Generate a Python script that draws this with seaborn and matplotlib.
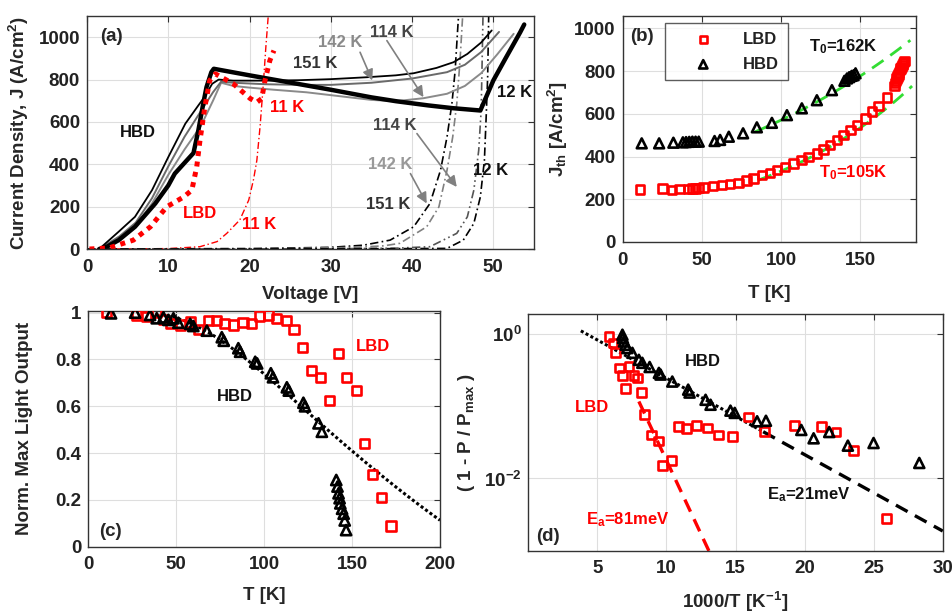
import numpy as np
import matplotlib
matplotlib.use("Agg")
import matplotlib.pyplot as plt
import seaborn as sns

sns.set_theme(style="white")
plt.rcParams.update({
    "font.family": ["Liberation Sans", "DejaVu Sans"],
    "font.weight": "bold",
    "axes.labelweight": "bold",
    "mathtext.fontset": "custom",
    "mathtext.rm": "Liberation Sans:bold",
    "mathtext.it": "Liberation Sans:bold",
    "mathtext.bf": "Liberation Sans:bold",
    "mathtext.default": "regular",
})

RED = "#ff0000"
GREEN = "#33dd33"
GRAY = "#808080"

# ---------------- (a) current density vs voltage ----------------
v_hbd_12k = [1.5, 2.5, 3.9, 5.9, 8.4, 10.0, 10.8, 12.1, 13.1, 13.7, 14.3, 14.7, 15.3, 15.6,
             20.0, 25.0, 30.0, 35.0, 38.0, 42.0, 45.0, 48.4, 50.0, 51.5, 53.3, 53.8]
j_hbd_12k = [0, 12, 42, 105, 215, 300, 356, 411, 453, 560, 686, 764, 835, 851,
             820, 786, 752, 716, 698, 678, 665, 654, 796, 900, 1023, 1060]

v_hbd_151k = [1.5, 3.9, 5.9, 8.0, 10.0, 12.1, 13.7, 14.5, 15.4, 16.2, 18.0, 22.0, 26.0, 30.0,
              34.4, 38.0, 40.2, 43.0, 45.1, 46.8, 48.5, 49.8]
j_hbd_151k = [0, 82, 152, 278, 434, 592, 678, 720, 780, 800, 795, 795, 797, 802,
              811, 820, 830, 855, 882, 921, 975, 1032]

v_hbd_142k = [1.5, 4.0, 6.0, 8.0, 10.0, 12.0, 14.0, 15.5, 16.5, 18.0, 22.0, 26.0, 30.0,
              35.0, 40.0, 44.3, 46.5, 48.5, 50.7]
j_hbd_142k = [0, 60, 125, 240, 390, 530, 650, 740, 790, 785, 778, 775, 775,
              785, 805, 835, 870, 930, 1025]

v_hbd_114k = [1.5, 4.0, 6.0, 8.0, 10.0, 12.0, 14.0, 15.5, 16.5, 18.0, 20.0, 23.0, 27.0,
              31.0, 35.0, 38.0, 41.4, 44.3, 46.5, 48.5, 50.5, 52.5]
j_hbd_114k = [0, 50, 110, 215, 350, 470, 580, 700, 785, 770, 762, 752, 740,
              722, 704, 698, 712, 733, 770, 830, 920, 1016]

v_lbd_11k = [0.3, 2.7, 5.7, 7.8, 9.8, 11.9, 12.9, 13.5, 13.9, 14.5, 15.1, 15.8, 18.0,
             20.1, 20.9, 21.5, 21.9, 22.5, 23.0]
j_lbd_11k = [0, 5, 42, 105, 199, 246, 278, 388, 513, 670, 796, 827, 780,
             710, 693, 710, 796, 890, 937]

# dash-dot family (second set of traces)
v_dd_11k = [0, 10, 13.9, 16.0, 17.2, 18.8, 19.9, 20.5, 20.9, 21.3, 21.7, 22.0, 22.4]
j_dd_11k = [0, 2, 11, 35, 74, 137, 231, 330, 419, 580, 781, 950, 1150]
v_dd_151k = [0, 20, 30, 34, 37.3, 40.2, 42.2, 43.5, 44.3, 44.9, 45.3, 45.6, 45.8]
j_dd_151k = [0, 2, 8, 18, 42, 105, 215, 372, 529, 686, 843, 1031, 1150]
v_dd_142k = [0, 25, 33, 36.5, 38.5, 41.8, 43.3, 44.3, 45.0, 45.5, 45.9, 46.3]
j_dd_142k = [0, 2, 8, 15, 27, 105, 199, 372, 529, 686, 890, 1150]
v_dd_114k = [0, 30, 38, 42.2, 45.5, 46.8, 47.6, 48.2, 48.5, 48.6, 48.75]
j_dd_114k = [0, 1, 4, 11, 74, 152, 278, 466, 654, 843, 1150]
v_dd_12k = [0, 30, 40, 44.3, 46.3, 47.6, 48.4, 48.9, 49.1, 49.3, 49.45]
j_dd_12k = [0, 1, 2, 3, 42, 121, 246, 419, 607, 811, 1150]

# ---------------- (b) threshold current density ----------------
t_b_lbd = [11, 25, 31, 36, 41.5, 44, 46, 48, 51, 57, 62.6, 67.8, 73, 78, 82.6, 88, 93, 97.3,
           102.6, 107.8, 113, 117.3, 122.6, 126.8, 131, 135.3, 139.4, 143.7, 147.9, 153.2,
           157.4, 161.6, 166.9,
           171.5, 172, 172.5, 173, 173.5, 174, 174.5, 175, 175.5, 176, 176.5, 177, 177.5, 178]
j_b_lbd = [247, 251, 243, 248, 249, 250, 251, 252, 256, 262, 267, 271, 277, 287, 298, 313, 324, 337,
           352, 368, 384, 399, 415, 434, 454, 477, 501, 524, 548, 579,
           610, 636, 677,
           730, 745, 755, 765, 775, 785, 795, 805, 812, 820, 828, 835, 842, 848]
t_b_hbd = [12, 23, 32, 38, 40, 42, 44, 46, 48, 58, 61.5, 67, 76, 84.7, 94.2, 103.7, 113.1,
           122.6, 132.1, 140, 141.6, 143, 144.5, 145.8, 147]
j_b_hbd = [462, 462, 465, 467, 468, 469, 470, 470, 470, 473, 478, 493, 509, 537, 558, 594, 626,
           664, 711, 755, 766, 772, 778, 781, 790]

T0_HBD, T0_LBD = 162.0, 105.0
fit_t_hbd = (83.6, 181.6); fit_j0_hbd = 516.0
fit_t_lbd = (85.7, 182.7); fit_j0_lbd = 290.0

# ---------------- (c) normalised max light output ----------------
t_c_lbd = [10.5, 27.5, 33.2, 38.9, 42.7, 46.5, 52.2, 57.9, 62.6, 68.3, 72.7, 77.4, 82.5, 87.9,
           93.0, 97.3, 102.4, 107.2, 112.5, 117.0, 121.8, 127.1, 132.2, 137.1, 142.3, 147.0,
           152.3, 156.9, 161.8, 166.9, 172.1]
p_c_lbd = [1.0, 0.99, 0.985, 1.0, 0.97, 0.955, 0.947, 0.96, 0.929, 0.966, 0.966, 0.952, 0.947, 0.957,
           0.952, 0.986, 0.99, 0.976, 0.966, 0.929, 0.852, 0.752, 0.724, 0.624, 0.826, 0.724,
           0.667, 0.442, 0.309, 0.211, 0.088]
t_c_hbd = [12.9, 26.6, 35.1, 38.9, 42.7, 45.5, 48.4, 51.2, 57.9, 59.7, 67.4, 75.9, 77.0, 85.3,
           86.3, 94.9, 96.0, 103.8, 105.0, 112.9, 114.0, 122.3, 123.2, 130.9, 132.8,
           141.0, 141.7, 142.3, 142.9, 143.3, 144.3, 145.2, 145.8, 146.6]
p_c_hbd = [0.997, 1.0, 0.99, 0.976, 0.98, 0.969, 0.976, 0.957, 0.952, 0.943, 0.923, 0.895, 0.88, 0.848,
           0.833, 0.79, 0.783, 0.741, 0.724, 0.681, 0.667, 0.615, 0.6, 0.527, 0.491,
           0.285, 0.257, 0.228, 0.207, 0.185, 0.162, 0.141, 0.112, 0.071]

# ---------------- (d) Arrhenius plot ----------------
x_d_hbd = [6.81, 6.85, 6.92, 7.04, 7.17, 7.53, 8.0, 8.25, 8.78, 9.45, 9.57, 10.42, 11.57, 11.67,
           12.83, 13.19, 14.63, 14.94, 16.56, 17.2, 19.76, 20.65, 21.78, 23.13, 24.99, 28.3]
y_d_hbd = [0.98, 0.88, 0.79, 0.71, 0.64, 0.55, 0.44, 0.40, 0.35, 0.29, 0.275, 0.22, 0.17, 0.155,
           0.123, 0.105, 0.087, 0.081, 0.062, 0.063, 0.047, 0.036, 0.044, 0.0285, 0.031, 0.0164]
x_d_lbd = [5.84, 6.13, 6.32, 6.61, 6.81, 7.28, 7.65, 7.89, 7.04, 8.2, 8.42, 8.92, 9.41, 9.7,
           10.35, 10.85, 11.45, 12.15, 12.95, 13.74, 14.75, 15.91, 17.11, 19.28, 21.21, 22.27,
           23.54, 25.95]
y_d_lbd = [0.93, 0.75, 0.55, 0.34, 0.27, 0.36, 0.27, 0.246, 0.175, 0.155, 0.077, 0.040, 0.033, 0.015,
           0.0177, 0.052, 0.049, 0.054, 0.050, 0.040, 0.038, 0.071, 0.045, 0.054, 0.052, 0.044,
           0.0245, 0.00276]

KB = 0.08617  # meV/K
EA_HBD, EA_LBD = 21.0, 81.0
A_HBD_D, A_LBD_D, A_HBD_C = 2.8, 215.0, 3.0


fig = plt.figure(figsize=(9.52, 6.12), dpi=100)
ax_a = fig.add_axes([0.0914, 0.5931, 0.4695, 0.3807])
ax_b = fig.add_axes([0.6541, 0.6046, 0.3078, 0.3698])
ax_c = fig.add_axes([0.0928, 0.1067, 0.3694, 0.3851])
ax_d = fig.add_axes([0.5550, 0.1002, 0.4353, 0.3868])

TICK_FS = 13.5
LABEL_FS = 13.5
ANN_FS = 12


def style(ax):
    ax.grid(True, color="#dedede", lw=0.8)
    ax.set_axisbelow(True)
    for s in ax.spines.values():
        s.set_color("#333333")
        s.set_linewidth(1.0)
    ax.tick_params(direction="in", length=4, width=0.8, color="#333333",
                   top=True, right=True, labelsize=TICK_FS, labelcolor="#222222")
    ax.tick_params(axis="x", pad=7)
    ax.tick_params(axis="y", pad=5)
    for lab in ax.get_xticklabels() + ax.get_yticklabels():
        lab.set_fontweight("bold")


def curve(ax, x, y, **kw):
    sns.lineplot(x=x, y=y, ax=ax, sort=False, estimator=None, **kw)


def dots(ax, x, y, marker, color, s, label=None):
    sns.scatterplot(x=x, y=y, ax=ax, marker=marker, s=s, facecolors="none",
                    edgecolor=color, linewidth=1.9, label=label, zorder=3, legend=False)


# ---- panel (a)
dd = (0, (5, 2, 1, 2))
curve(ax_a, v_dd_11k, j_dd_11k, color=RED, lw=1.0, linestyle=dd)
curve(ax_a, v_dd_151k, j_dd_151k, color="black", lw=1.2, linestyle=dd)
curve(ax_a, v_dd_142k, j_dd_142k, color=GRAY, lw=1.2, linestyle=dd)
curve(ax_a, v_dd_114k, j_dd_114k, color="#555555", lw=1.2, linestyle=(0, (5, 2, 1, 2, 1, 2)))
curve(ax_a, v_dd_12k, j_dd_12k, color="black", lw=1.2, linestyle=dd)
curve(ax_a, v_hbd_114k, j_hbd_114k, color="#8a8a8a", lw=1.4)
curve(ax_a, v_hbd_142k, j_hbd_142k, color="#6a6a6a", lw=1.4)
curve(ax_a, v_hbd_151k, j_hbd_151k, color="black", lw=1.3)
curve(ax_a, v_hbd_12k, j_hbd_12k, color="black", lw=3.2)
curve(ax_a, v_lbd_11k, j_lbd_11k, color=RED, lw=3.6, linestyle=(0, (1, 1.1)),
      dash_capstyle="butt")

ax_a.set_xlim(0, 55)
ax_a.set_ylim(0, 1100)
ax_a.set_xticks([0, 10, 20, 30, 40, 50])
ax_a.set_yticks([0, 200, 400, 600, 800, 1000])
ax_a.set_xlabel("Voltage [V]", fontsize=LABEL_FS)
ax_a.set_ylabel("Current Density, J (A/cm$^2$)", fontsize=LABEL_FS)
ax_a.xaxis.set_label_coords(0.5, -0.16)
ax_a.xaxis.label.set_va("top")
ax_a.yaxis.set_label_coords(-0.125, 0.5)

txt = dict(ha="center", va="center", fontsize=ANN_FS, fontweight="bold")
ax_a.text(3.0, 1003, "(a)", fontsize=13.5, ha="center", va="center", fontweight="bold")
ax_a.text(6.3, 549, "HBD", color="#111111", **txt)
ax_a.text(13.9, 168, "LBD", color=RED, **txt)
ax_a.text(24.6, 667, "11 K", color=RED, **txt)
ax_a.text(21.2, 118, "11 K", color=RED, **txt)
ax_a.text(31.2, 976, "142 K", color="#8a8a8a", **txt)
ax_a.text(37.5, 1023, "114 K", color="#444444", **txt)
ax_a.text(28.1, 874, "151 K", color="#333333", **txt)
ax_a.text(52.6, 741, "12 K", color="#111111", **txt)
ax_a.text(37.9, 584, "114 K", color="#444444", **txt)
ax_a.text(37.3, 400, "142 K", color="#999999", **txt)
ax_a.text(37.1, 212, "151 K", color="#333333", **txt)
ax_a.text(49.6, 369, "12 K", color="#111111", **txt)

arrow = dict(arrowstyle="-|>", color=GRAY, lw=1.2, mutation_scale=16, shrinkA=0, shrinkB=0)
for (x0, y0), (x1, y1) in [((33.6, 929), (35.1, 796)), ((36.9, 984), (41.4, 717)),
                           ((40.6, 545), (45.5, 293)), ((39.8, 356), (41.8, 215))]:
    ax_a.annotate("", xy=(x1, y1), xytext=(x0, y0), arrowprops=arrow)
style(ax_a)

# ---- panel (b)
dots(ax_b, t_b_lbd, j_b_lbd, "s", RED, 38, label="LBD")
dots(ax_b, t_b_hbd, j_b_hbd, "^", "black", 50, label="HBD")
tf = np.linspace(*fit_t_hbd, 60)
curve(ax_b, tf, fit_j0_hbd * np.exp((tf - fit_t_hbd[0]) / T0_HBD), color=GREEN, lw=2.0,
      linestyle=(0, (5, 3)))
tf = np.linspace(*fit_t_lbd, 60)
curve(ax_b, tf, fit_j0_lbd * np.exp((tf - fit_t_lbd[0]) / T0_LBD), color=GREEN, lw=2.0,
      linestyle=(0, (5, 3)))
ax_b.set_xlim(0, 185)
ax_b.set_ylim(0, 1060)
ax_b.set_xticks([0, 50, 100, 150])
ax_b.set_yticks([0, 200, 400, 600, 800, 1000])
ax_b.set_xlabel("T [K]", fontsize=LABEL_FS)
ax_b.set_ylabel("J$_{th}$ [A/cm$^2$]", fontsize=LABEL_FS)
ax_b.xaxis.set_label_coords(0.5, -0.19)
ax_b.xaxis.label.set_va("top")
ax_b.yaxis.set_label_coords(-0.18, 0.5)
ax_b.text(12, 961, "(b)", fontsize=13.5, ha="center", va="center", fontweight="bold")
ax_b.text(139.4, 914, "T$_0$=162K", color="#111111", **txt)
ax_b.text(145.8, 324, "T$_0$=105K", color=RED, **txt)
leg = ax_b.legend(loc="upper left", bbox_to_anchor=(0.144, 0.966), fontsize=ANN_FS,
                  frameon=True, fancybox=False, edgecolor="#333333", handlelength=3.6,
                  handletextpad=0.6, borderpad=0.5, labelspacing=0.6, borderaxespad=0,
                  markerscale=0.85)
leg.get_frame().set_linewidth(1.0)
for t in leg.get_texts():
    t.set_fontweight("bold")
    t.set_color("#222222")
style(ax_b)

# ---- panel (c)
dots(ax_c, t_c_lbd, p_c_lbd, "s", RED, 44)
dots(ax_c, t_c_hbd, p_c_hbd, "^", "black", 54)
tc = np.linspace(45, 200, 120)
curve(ax_c, tc, 1 - A_HBD_C * np.exp(-EA_HBD / (KB * tc)), color="black", lw=2.2,
      linestyle=(0, (1, 0.8)), dash_capstyle="butt")
ax_c.set_xlim(0, 200)
ax_c.set_ylim(0, 1.007)
ax_c.set_xticks([0, 50, 100, 150, 200])
ax_c.set_yticks([0, 0.2, 0.4, 0.6, 0.8, 1.0])
ax_c.set_yticklabels(["0", "0.2", "0.4", "0.6", "0.8", "1"])
ax_c.set_xlabel("T [K]", fontsize=LABEL_FS)
ax_c.set_ylabel("Norm. Max Light Output", fontsize=LABEL_FS)
ax_c.xaxis.set_label_coords(0.5, -0.17)
ax_c.xaxis.label.set_va("top")
ax_c.yaxis.set_label_coords(-0.157, 0.5)
ax_c.text(161.8, 0.855, "LBD", color=RED, **txt)
ax_c.text(83.5, 0.641, "HBD", color="#111111", **txt)
ax_c.text(12.3, 0.064, "(c)", fontsize=13.5, ha="center", va="center", fontweight="bold")
style(ax_c)

# ---- panel (d)
dots(ax_d, x_d_lbd, y_d_lbd, "s", RED, 40)
dots(ax_d, x_d_hbd, y_d_hbd, "^", "black", 52)
xd = np.linspace(3.8, 17.0, 60)
curve(ax_d, xd, A_HBD_D * np.exp(-EA_HBD / KB * xd / 1000), color="black", lw=2.2,
      linestyle=(0, (1, 0.8)), dash_capstyle="butt")
xd = np.linspace(17.0, 30.0, 60)
curve(ax_d, xd, A_HBD_D * np.exp(-EA_HBD / KB * xd / 1000), color="black", lw=2.4,
      linestyle=(0, (4, 2.5)))
xr = np.linspace(8.0, 13.5, 60)
curve(ax_d, xr, A_LBD_D * np.exp(-EA_LBD / KB * xr / 1000), color=RED, lw=2.4,
      linestyle=(0, (4, 2.5)))
ax_d.set_yscale("log")
ax_d.set_xlim(0, 30)
ax_d.set_ylim(1e-3, 1.9)
ax_d.set_xticks([5, 10, 15, 20, 25, 30])
ax_d.set_yticks([1e-2, 1e0])
ax_d.set_yticklabels(["10$^{-2}$", "10$^{0}$"])
ax_d.minorticks_off()
ax_d.set_xlabel("1000/T [K$^{-1}$]", fontsize=LABEL_FS)
ax_d.set_ylabel("( 1 - P / P$_{max}$ )", fontsize=LABEL_FS)
ax_d.xaxis.set_label_coords(0.5, -0.165)
ax_d.xaxis.label.set_va("top")
ax_d.yaxis.set_label_coords(-0.125, 0.5)
ax_d.text(12.6, 0.42, "HBD", color="#111111", **txt)
ax_d.text(4.64, 0.095, "LBD", color=RED, **txt)
ax_d.text(20.3, 0.006, "E$_a$=21meV", color="#111111", **txt)
ax_d.text(7.17, 0.0027, "E$_a$=81meV", color=RED, **txt)
ax_d.text(1.4, 10 ** -2.8, "(d)", fontsize=13.5, ha="center", va="center", fontweight="bold")
style(ax_d)

fig.savefig("out.png", dpi=100)
